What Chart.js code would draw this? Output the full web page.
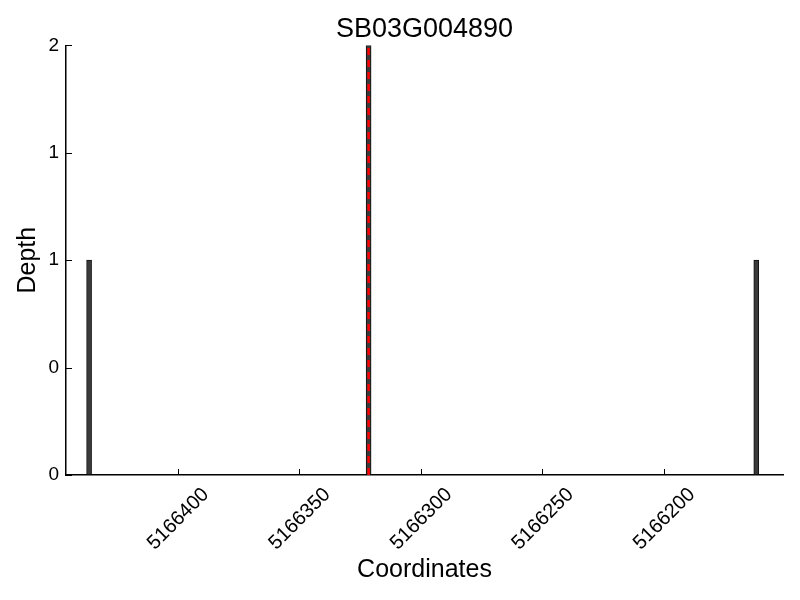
<!DOCTYPE html>
<html lang="en">
<head>
    <meta charset="UTF-8">
    <title>SB03G004890</title>
    <style>
        html, body { margin: 0; padding: 0; background: #fff; }
        #depthChart { display: block; }
    </style>
</head>
<body>
    <canvas id="depthChart" width="800" height="600"></canvas>

    <script src="https://cdn.jsdelivr.net/npm/chart.js"></script>
    <script>
        const positions = [5166436.5, 5166321.5, 5166162];
        const depths = [1, 2, 1];
        const markerPos = 5166321.5;
        const markerRange = [0, 2];

        const xTicks = [5166400, 5166350, 5166300, 5166250, 5166200];
        const yTicks = [0, 0.5, 1, 1.5, 2];
        const yTickLabels = ['0', '0', '1', '1', '2'];
        const xMin = 5166151, xMax = 5166446;

        const fontFamily = '"Liberation Sans", Arial, sans-serif';

        // tick marks point into the plot, like the original
        const innerTicks = {
            id: 'innerTicks',
            afterLayout(chart) {
                // centre the title over the plot area, not the whole canvas
                if (chart.titleBlock) {
                    chart.titleBlock.left = chart.chartArea.left;
                    chart.titleBlock.right = chart.chartArea.right;
                }
            },
            afterDraw(chart) {
                const c = chart.ctx;
                const { x, y } = chart.scales;
                c.save();
                c.strokeStyle = '#000';
                c.lineWidth = 1;
                x.ticks.forEach(t => {
                    const px = Math.round(x.getPixelForValue(t.value)) + 0.5;
                    c.beginPath();
                    c.moveTo(px, y.bottom);
                    c.lineTo(px, y.bottom - 6);
                    c.stroke();
                });
                y.ticks.forEach(t => {
                    const py = Math.round(y.getPixelForValue(t.value)) + 0.5;
                    c.beginPath();
                    c.moveTo(x.left, py);
                    c.lineTo(x.left + 6, py);
                    c.stroke();
                });
                c.restore();
            }
        };

        const ctx = document.getElementById('depthChart').getContext('2d');

        new Chart(ctx, {
            type: 'bar',
            data: {
                datasets: [
                    {
                        type: 'line',
                        label: 'marker',
                        data: markerRange.map(v => ({ x: markerPos, y: v })),
                        borderColor: '#ff0000',
                        borderWidth: 2.5,
                        borderDash: [7, 5],
                        pointRadius: 0,
                        fill: false,
                        order: 0
                    },
                    {
                        label: 'Depth',
                        data: positions.map((p, i) => ({ x: p, y: depths[i] })),
                        backgroundColor: '#3a3a3a',
                        borderColor: '#111111',
                        borderWidth: 1,
                        borderSkipped: false,
                        barThickness: 5,
                        order: 1
                    }
                ]
            },
            options: {
                responsive: false,
                animation: false,
                layout: { padding: { right: 17, left: 0, top: 0, bottom: 0 } },
                plugins: {
                    legend: { display: false },
                    tooltip: { enabled: false },
                    title: {
                        display: true,
                        text: 'SB03G004890',
                        color: '#000',
                        font: { family: fontFamily, size: 27, weight: 'normal' },
                        padding: { top: 13, bottom: 0 }
                    }
                },
                scales: {
                    x: {
                        type: 'linear',
                        reverse: true,
                        offset: false,
                        min: xMin,
                        max: xMax,
                        afterBuildTicks: s => { s.ticks = xTicks.map(v => ({ value: v })); },
                        afterFit: s => { s.height = 125; },
                        grid: { display: true, drawOnChartArea: false, drawTicks: false },
                        border: { color: '#000', width: 1.5 },
                        ticks: {
                            color: '#000',
                            font: { family: fontFamily, size: 20 },
                            minRotation: 45,
                            maxRotation: 45,
                            padding: 8,
                            labelOffset: 28,
                            callback: v => String(v)
                        },
                        title: {
                            display: true,
                            text: 'Coordinates',
                            color: '#000',
                            font: { family: fontFamily, size: 25 },
                            padding: { top: 0, bottom: 15 }
                        }
                    },
                    y: {
                        min: 0,
                        max: 2,
                        afterBuildTicks: s => { s.ticks = yTicks.map(v => ({ value: v })); },
                        afterFit: s => { s.width = 66; },
                        grid: { display: true, drawOnChartArea: false, drawTicks: false },
                        border: { color: '#000', width: 1.5 },
                        ticks: {
                            color: '#000',
                            font: { family: fontFamily, size: 19 },
                            padding: 7,
                            callback: v => yTickLabels[yTicks.indexOf(v)]
                        },
                        title: {
                            display: true,
                            text: 'Depth',
                            color: '#000',
                            font: { family: fontFamily, size: 25 },
                            padding: { top: 13, bottom: 0 }
                        }
                    }
                }
            },
            plugins: [innerTicks]
        });
    </script>
</body>
</html>
